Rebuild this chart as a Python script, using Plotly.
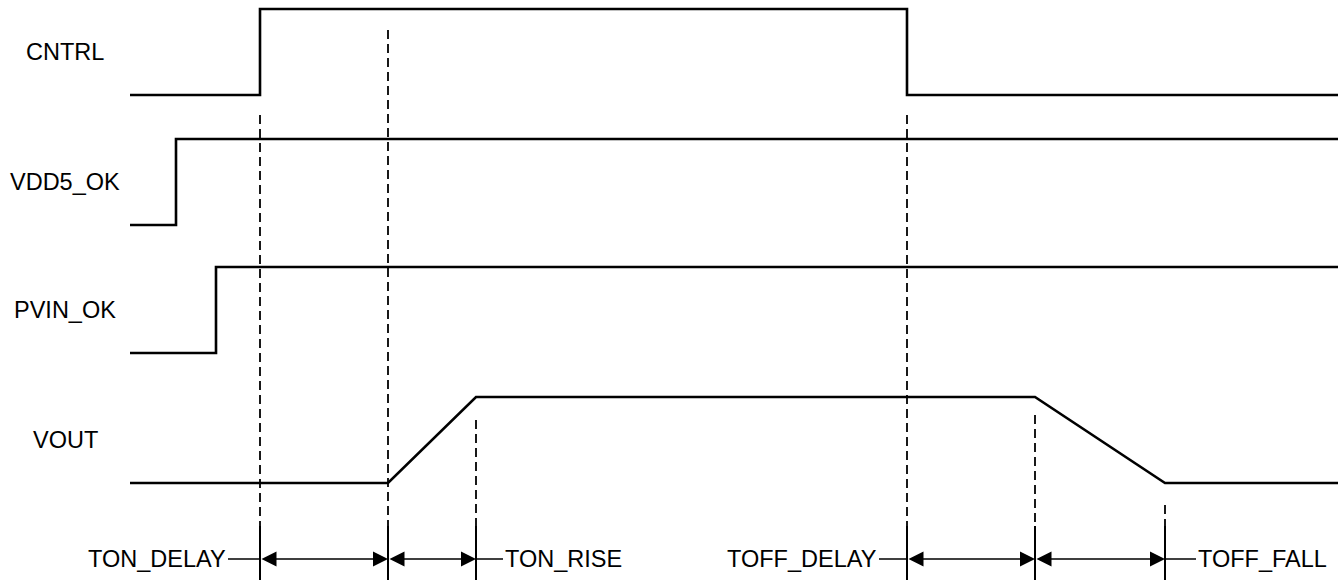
import plotly.graph_objects as go

# ---------------- data (time in diagram units, levels 0/1) ----------------
signal_names = ["CNTRL", "VDD5_OK", "PVIN_OK", "VOUT"]

cntrl_t = [130, 260, 260, 907, 907, 1338]
cntrl_v = [0, 0, 1, 1, 0, 0]

vdd5_t = [130, 176, 176, 1338]
vdd5_v = [0, 0, 1, 1]

pvin_t = [130, 216, 216, 1338]
pvin_v = [0, 0, 1, 1]

vout_t = [130, 388, 476, 1035, 1165, 1338]
vout_v = [0, 0, 1, 1, 0, 0]

# timing markers (dashed guide lines)
marker_t = [260, 388, 476, 907, 1035, 1165]
marker_top = [115, 30, 420, 115, 415, 505]

# measured intervals (start, end)
interval_start = [260, 388, 907, 1035]
interval_end = [388, 476, 1035, 1165]

# interval labels: text, attached boundary, side
interval_labels = ["TON_DELAY", "TON_RISE", "TOFF_DELAY", "TOFF_FALL"]
label_anchor_t = [260, 476, 907, 1165]
label_side = ["left", "right", "left", "right"]
label_lead = [32, 27, 28, 31]

# ---------------- layout constants ----------------
W, H = 1343, 582
lane_low = [95, 225, 353, 483]
lane_amp = 86
label_x = 65
label_dy = -43
meas_y = 559
tick_top = 526
bottom_y = 580
FONT = "Liberation Sans, Arial, sans-serif"
FS = 23.5

fig = go.Figure()

series = [(cntrl_t, cntrl_v), (vdd5_t, vdd5_v), (pvin_t, pvin_v), (vout_t, vout_v)]
for i, (t, v) in enumerate(series):
    ys = [lane_low[i] - lv * lane_amp for lv in v]
    fig.add_trace(go.Scatter(x=t, y=ys, mode="lines",
                             line=dict(color="black", width=2.6),
                             hoverinfo="skip", showlegend=False))

# dashed guide lines
dx, dy = [], []
for t, top in zip(marker_t, marker_top):
    dx += [t, t, None]
    dy += [top, bottom_y, None]
fig.add_trace(go.Scatter(x=dx, y=dy, mode="lines",
                         line=dict(color="black", width=1.8, dash="9px,5px"),
                         hoverinfo="skip", showlegend=False))

# solid ticks at the bottom
tx, ty = [], []
for t in marker_t:
    tx += [t, t, None]
    ty += [tick_top, bottom_y, None]
fig.add_trace(go.Scatter(x=tx, y=ty, mode="lines",
                         line=dict(color="black", width=2),
                         hoverinfo="skip", showlegend=False))

# label leader lines
lx, ly = [], []
for t, side, lead in zip(label_anchor_t, label_side, label_lead):
    end = t - lead if side == "left" else t + lead
    lx += [t, end, None]
    ly += [meas_y, meas_y, None]
fig.add_trace(go.Scatter(x=lx, y=ly, mode="lines",
                         line=dict(color="black", width=1.5),
                         hoverinfo="skip", showlegend=False))

annotations = []
# double arrows
for s, e in zip(interval_start, interval_end):
    annotations.append(dict(x=e, y=meas_y, ax=s, ay=meas_y, xref="x", yref="y",
                            axref="x", ayref="y", text="", showarrow=True,
                            arrowhead=2, startarrowhead=2, arrowside="end+start",
                            arrowsize=2, startarrowsize=2, arrowwidth=1.5,
                            arrowcolor="black"))
# interval labels
for txt, t, side, lead in zip(interval_labels, label_anchor_t, label_side, label_lead):
    if side == "left":
        annotations.append(dict(x=t - lead, y=meas_y, text=txt, xanchor="right",
                                yanchor="middle", showarrow=False, xref="x", yref="y",
                                font=dict(family=FONT, size=FS, color="black")))
    else:
        annotations.append(dict(x=t + lead, y=meas_y, text=txt, xanchor="left",
                                yanchor="middle", showarrow=False, xref="x", yref="y",
                                font=dict(family=FONT, size=FS, color="black")))
# signal names
for i, name in enumerate(signal_names):
    annotations.append(dict(x=label_x, y=lane_low[i] + label_dy, text=name,
                            xanchor="center", yanchor="middle", showarrow=False,
                            xref="x", yref="y",
                            font=dict(family=FONT, size=FS, color="black")))

fig.update_layout(
    width=W, height=H,
    margin=dict(l=0, r=0, t=0, b=0),
    paper_bgcolor="white", plot_bgcolor="white",
    xaxis=dict(range=[0, W], visible=False, fixedrange=True),
    yaxis=dict(range=[H, 0], visible=False, fixedrange=True),
    annotations=annotations,
    showlegend=False,
)

fig.write_html(
    "out.html",
    config={"displayModeBar": False},
    post_script="document.body.style.margin='0';document.body.style.overflow='hidden';",
)
